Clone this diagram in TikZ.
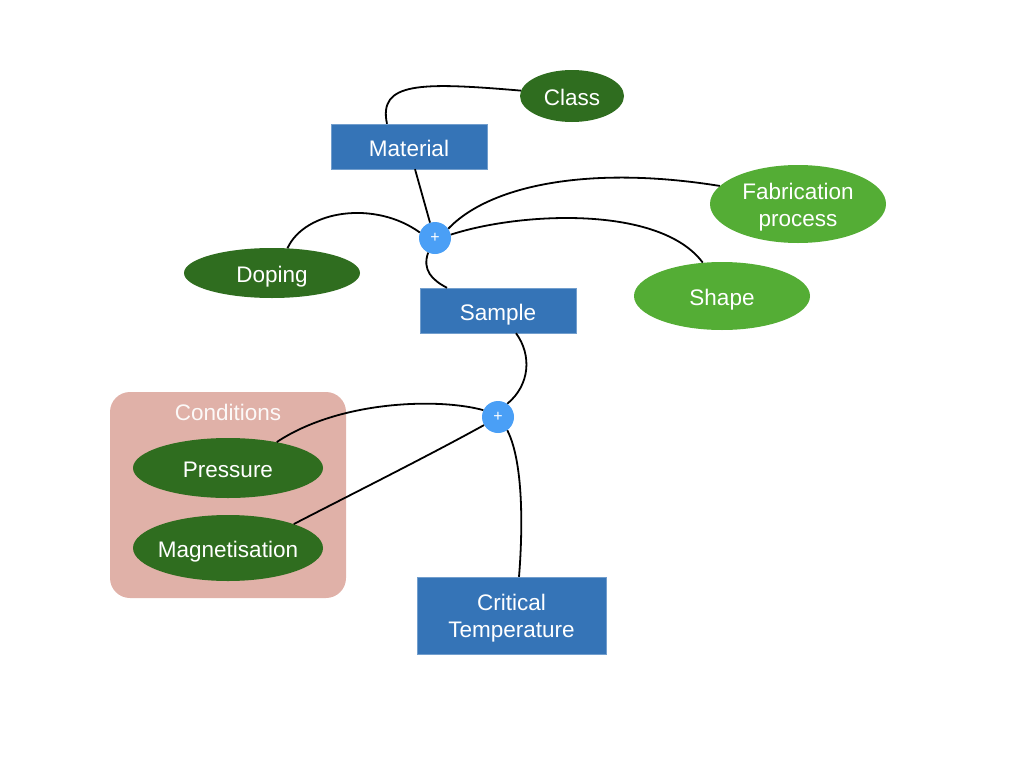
\documentclass[tikz,border=0pt]{standalone}
\usepackage{fontspec}
\setmainfont{Liberation Sans}
\usetikzlibrary{shapes.geometric}
\definecolor{darkleaf}{HTML}{2F6D1F}
\definecolor{lightleaf}{HTML}{54AD35}
\definecolor{boxblue}{HTML}{3574B7}
\definecolor{joinblue}{HTML}{4A9FF6}
\definecolor{condpink}{HTML}{E0B1A8}
\begin{document}
\begin{tikzpicture}[x=1pt,y=-1pt,
    lbl/.style={text=white,font=\fontsize{22.5}{27}\selectfont,text height=19pt,text depth=0pt},
    twoline/.style={align=center,text height=44pt,text depth=0pt},
    concept/.style={lbl,fill=boxblue,draw=boxblue!70!white,inner sep=0pt},
    factor/.style={lbl,ellipse,inner sep=0pt},
    hub/.style={circle,fill=joinblue,minimum size=32pt,inner sep=0pt,text=white,font=\fontsize{16}{16}\selectfont},
    link/.style={line width=1.8pt}]
  \useasboundingbox (0,0) rectangle (1024,768);
  \fill[condpink,rounded corners=20pt] (110,392) rectangle (346,598);
  \node[lbl,text=white!92!condpink] (cond) at (228,411) {Conditions};
  \node[concept,minimum width=156pt,minimum height=45pt] (mat) at (409,146.5) {Material};
  \node[concept,minimum width=156pt,minimum height=45pt] (sam) at (498,310.5) {Sample};
  \node[concept,twoline,minimum width=189pt,minimum height=77pt] (crit) at (511.5,615.5) {Critical\\Temperature};
  \node[factor,fill=darkleaf,minimum width=104pt,minimum height=52pt] (class) at (572,96) {Class};
  \node[factor,fill=darkleaf,minimum width=176pt,minimum height=50pt] (dop) at (272,273) {Doping};
  \node[factor,twoline,fill=lightleaf,minimum width=176pt,minimum height=78pt] (fab) at (798,204) {Fabrication\\process};
  \node[factor,fill=lightleaf,minimum width=176pt,minimum height=68pt] (shape) at (722,296) {Shape};
  \node[factor,fill=darkleaf,minimum width=190pt,minimum height=60pt] (pres) at (228,468) {Pressure};
  \node[factor,fill=darkleaf,minimum width=190pt,minimum height=66pt,inner xsep=-20pt] (mag) at (228,548) {Magnetisation};
  \node[hub] (j1) at (435,238) {+};
  \node[hub] (j2) at (498,417) {+};
  \draw[link] ([xshift=-22pt]mat.north) .. controls (378,82) and (420,82) .. (class.174);
  \draw[link] ([xshift=6pt]mat.south) -- (j1.108);
  \draw[link] (dop.58) .. controls (305,210) and (375,200) .. (j1.160);
  \draw[link] (j1.35) .. controls (490,185) and (590,165) .. (fab.167);
  \draw[link] (j1.12) .. controls (520,212) and (660,205) .. (shape.120);
  \draw[link] (j1.245) .. controls (422,270) and (432,280) .. ([xshift=-51pt]sam.north);
  \draw[link] ([xshift=18pt]sam.south) .. controls (532,355) and (530,385) .. (j2.55);
  \draw[link] (j2.155) .. controls (440,398) and (340,400) .. (pres.28);
  \draw[link] (j2.210) .. controls (430,455) and (350,495) .. (mag.20);
  \draw[link] (j2.305) .. controls (525,465) and (522,540) .. ([xshift=7.5pt]crit.north);
\end{tikzpicture}
\end{document}
